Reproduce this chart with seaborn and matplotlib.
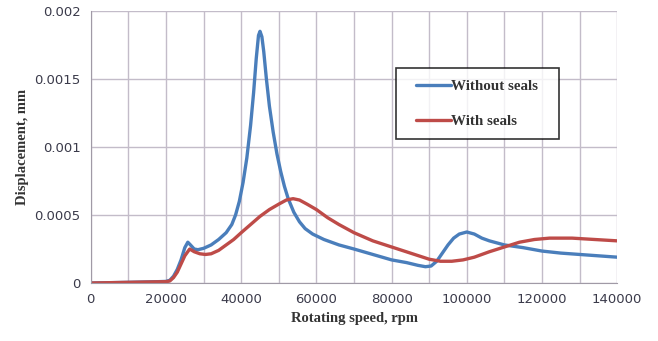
import numpy as np
import pandas as pd
import matplotlib
matplotlib.use("Agg")
import matplotlib.pyplot as plt
import seaborn as sns

# ── data ────────────────────────────────────────────────────────────────────
speed_without = [0, 10000, 18000, 20000, 21000, 22000, 23000, 24000, 25000,
                 25800, 26500, 27500, 28500, 30000, 32000, 34000, 36000,
                 37500, 38500, 39500, 40500, 41500, 42500, 43300, 44000,
                 44600, 45000, 45500, 46000, 46700, 47500, 48500, 49500,
                 50500, 51500, 52500, 54000, 55500, 57000, 59000, 62000,
                 66000, 70000, 75000, 80000, 84000, 87000, 89000, 90500,
                 92000, 93500, 95000, 96500, 98000, 100000, 102000, 104000,
                 106000, 110000, 115000, 120000, 125000, 130000, 135000, 140000]
disp_without = [0, 0.000005, 0.00001, 0.000012, 0.00002, 0.00005, 0.0001,
                0.00017, 0.00026, 0.0003, 0.00028, 0.00025, 0.000245,
                0.000255, 0.00028, 0.00032, 0.00037, 0.00043, 0.0005, 0.0006,
                0.00074, 0.00092, 0.00116, 0.0014, 0.00165, 0.00182, 0.00185,
                0.00181, 0.0017, 0.0015, 0.0013, 0.00111, 0.00095, 0.00082,
                0.00071, 0.00062, 0.00052, 0.00045, 0.0004, 0.00036, 0.00032,
                0.00028, 0.00025, 0.00021, 0.00017, 0.00015, 0.00013, 0.00012,
                0.000125, 0.00016, 0.00022, 0.00028, 0.00033, 0.00036,
                0.000375, 0.00036, 0.00033, 0.00031, 0.00028, 0.00026,
                0.000235, 0.00022, 0.00021, 0.0002, 0.00019]

speed_with = [0, 10000, 20000, 21000, 22000, 23000, 24000, 25000, 26300,
              27500, 29000, 30500, 32000, 34000, 36000, 38000, 40000, 42500,
              45000, 47500, 50000, 52000, 53800, 55500, 57500, 60000, 63000,
              66000, 70000, 75000, 80000, 85000, 90000, 93000, 96000, 99000,
              102000, 106000, 110000, 114000, 118000, 122000, 128000, 134000,
              140000]
disp_with = [0, 0.000005, 0.00001, 0.000015, 0.00004, 0.00008, 0.00014,
             0.0002, 0.00025, 0.00023, 0.000215, 0.00021, 0.000215, 0.00024,
             0.00028, 0.00032, 0.00037, 0.00043, 0.00049, 0.00054, 0.00058,
             0.00061, 0.00062, 0.00061, 0.00058, 0.00054, 0.00048, 0.00043,
             0.00037, 0.00031, 0.000265, 0.00022, 0.000175, 0.00016, 0.00016,
             0.00017, 0.00019, 0.00023, 0.000265, 0.0003, 0.00032, 0.00033,
             0.00033, 0.00032, 0.00031]

BLUE = "#4a7ebb"
RED = "#be4b48"

df = pd.concat([
    pd.DataFrame({"speed": speed_without, "disp": disp_without, "case": "Without seals"}),
    pd.DataFrame({"speed": speed_with, "disp": disp_with, "case": "With seals"}),
])

sns.set_style("white")
fig = plt.figure(figsize=(6.58, 3.41), dpi=100)
ax = fig.add_axes([0.138, 0.170, 0.800, 0.798])

sns.lineplot(data=df, x="speed", y="disp", hue="case", sort=False,
             palette={"Without seals": BLUE, "With seals": RED},
             lw=2.4, ax=ax)
for line in ax.get_lines():
    line.set_solid_joinstyle("round")

ax.set_xlim(0, 140000)
ax.set_ylim(0, 0.002)
ax.set_xticks(np.arange(0, 140001, 20000))
ax.set_xticks(np.arange(0, 140001, 10000), minor=True)
ax.set_yticks([0, 0.0005, 0.001, 0.0015, 0.002])
ax.set_yticklabels(["0", "0.0005", "0.001", "0.0015", "0.002"])
ax.grid(True, which="both", axis="x", color="#c3bcc9", lw=1)
ax.grid(True, which="major", axis="y", color="#c3bcc9", lw=1)
ax.set_axisbelow(True)
for s in ["top", "right"]:
    ax.spines[s].set_visible(False)
for s in ["left", "bottom"]:
    ax.spines[s].set_color("#a09aa6")
ax.tick_params(axis="both", which="both", direction="out", length=4,
               color="#a09aa6", labelsize=9.5, labelcolor="#3a3a4a")
ax.tick_params(axis="x", which="minor", length=4)

ax.set_xlabel("Rotating speed, rpm", fontsize=10.5, fontweight="bold",
              family="Liberation Serif", color="#333333")
ax.set_ylabel("Displacement, mm", fontsize=10.5, fontweight="bold",
              family="Liberation Serif", color="#333333", labelpad=4)

h, l = ax.get_legend_handles_labels()
leg = ax.legend(h, l, loc="upper left", bbox_to_anchor=(0.58, 0.79),
                frameon=True, fancybox=False, edgecolor="black",
                prop={"family": "Liberation Serif", "weight": "bold", "size": 10.8},
                handlelength=2.3, handletextpad=0.05, borderpad=0.75,
                labelspacing=1.45, borderaxespad=0)
leg.get_frame().set_linewidth(1.2)
for t in leg.get_texts():
    t.set_color("#333333")
leg._legend_box.set_width(140)

fig.savefig("out.png", dpi=100)
